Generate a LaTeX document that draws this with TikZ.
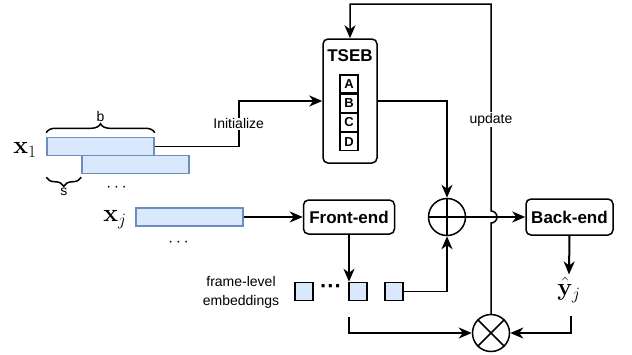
\documentclass[tikz,border=0pt]{standalone}
\usepackage{amsmath,amssymb}
\usepackage[no-math]{fontspec}
\setmainfont{Liberation Sans}
\usepackage{xcolor}
\usetikzlibrary{arrows.meta,positioning,calc,decorations.pathreplacing}

\definecolor{segfill}{HTML}{DAE8FC}
\definecolor{segedge}{HTML}{6C8EBF}

\begin{document}
\begin{tikzpicture}[
    x=1pt, y=-1pt,
    block/.style={rectangle, draw, line width=1.5pt, rounded corners=5pt, inner sep=0pt, font=\fontsize{17}{20}\selectfont\bfseries},
    seg/.style={rectangle, draw=segedge, fill=segfill, line width=1.5pt, minimum width=107pt, minimum height=18pt, inner sep=0pt},
    emb/.style={rectangle, draw, fill=segfill, line width=1.5pt, minimum size=18pt, inner sep=0pt},
    sub/.style={rectangle, draw, line width=1.2pt, minimum size=18pt, inner sep=0pt, font=\fontsize{13}{13}\selectfont\bfseries},
    op/.style={circle, draw, line width=1.5pt, minimum size=37pt, inner sep=0pt},
    arrow/.style={-{Stealth[length=13pt,width=11pt,inset=4pt]}, line width=1.5pt},
    line/.style={line width=1.5pt},
    brace/.style={decorate, decoration={brace, amplitude=9pt}, line width=1.5pt},
    label/.style={font=\fontsize{14}{19}\selectfont, fill=white, inner sep=1pt, align=center},
    mathlabel/.style={font=\fontsize{26}{28}\selectfont, inner sep=0pt}
]
    \useasboundingbox (0,0) rectangle (632,354);

    % Input segments
    \node[seg] (seg1) at (100.5,146.5) {};
    \node[seg] (seg2) at (135.5,164.5) {};
    \node[seg] (segj) at (189.5,217) {};
    \node[mathlabel] (x1) at (25,150) {$\mathbf{x}_1$};
    \node[mathlabel] (xj) at (115,220) {$\mathbf{x}_j$};
    \node[font=\fontsize{16}{16}\selectfont] (dots1) at (118,188) {$\cdots$};
    \node[font=\fontsize{16}{16}\selectfont] (dots2) at (180,243) {$\cdots$};

    % Braces for block and shift
    \draw[brace] ([yshift=4pt]seg1.north west) -- ([yshift=4pt]seg1.north east)
        node[midway, above=9pt, label, fill=none] (blen) {b};
    \draw[brace, decoration={mirror}] ([yshift=-3pt]seg1.south west |- seg2.south) -- ([yshift=-3pt]seg2.south west)
        node[midway, below=9pt, label, fill=none] (slen) {s};

    % TSEB
    \node[block, minimum width=54pt, minimum height=124pt] (tseb) at (350,101) {};
    \node[font=\fontsize{17}{20}\selectfont\bfseries] (tsebtitle) at (350,56) {TSEB};
    \node[sub] (subA) at (349,84) {A};
    \node[sub, below=0pt of subA] (subB) {B};
    \node[sub, below=0pt of subB] (subC) {C};
    \node[sub, below=0pt of subC] (subD) {D};

    % Front-end, combination, back-end
    \node[block, minimum width=91pt, minimum height=34pt] (frontend) at (349,217) {Front-end};
    \node[op] (oplus) at (447,217) {};
    \draw[line] (oplus.north) -- (oplus.south) (oplus.west) -- (oplus.east);
    \node[block, minimum width=87pt, minimum height=36pt] (backend) at (569.5,217) {Back-end};
    \node[mathlabel] (yhat) at (569,290) {$\hat{\mathbf{y}}_j$};

    % Frame-level embeddings
    \node[emb] (emb1) at (304,291.5) {};
    \node[emb] (emb2) at (358,291.5) {};
    \node[emb] (emb3) at (394,291.5) {};
    \node[font=\fontsize{22}{22}\selectfont\bfseries] (embdots) at (331,289) {···};
    \node[label, fill=none] (emblabel) at (241,292) {frame-level\\embeddings};

    % Multiplication
    \node[op] (otimes) at (491,333) {};
    \draw[line] (otimes.north west) -- (otimes.south east) (otimes.north east) -- (otimes.south west);
    \coordinate (embout) at (349,317);
    \coordinate (yout) at (571,316);

    % Arrows
    \draw[arrow] (seg1.east) -- ++(84,0) |- node[pos=0.25, label] {Initialize} (tseb.west);
    \draw[arrow] (tseb.east) -| (oplus.north);
    \draw[arrow] (segj.east) -- (frontend.west);
    \draw[arrow] (frontend.south) -- (frontend.south |- emb2.north);
    \draw[arrow] (emb3.east) -| (oplus.south);
    \draw[arrow] (oplus.east) -- (backend.west);
    \draw[arrow, line width=2pt] (backend.south) -- ([yshift=3pt]yhat.north);
    \draw[arrow] (embout) |- (otimes.west);
    \draw[arrow] (yout) |- (otimes.east);

    % Update loop, jumping over the back-end input
    \draw[arrow] (otimes.north) -- ($(otimes.north |- oplus.east)+(0,6)$)
        arc[start angle=-90, end angle=90, radius=6pt]
        -- node[pos=0.44, label] {update} (otimes.north |- 0,4) -| (tseb.north);
\end{tikzpicture}
\end{document}
